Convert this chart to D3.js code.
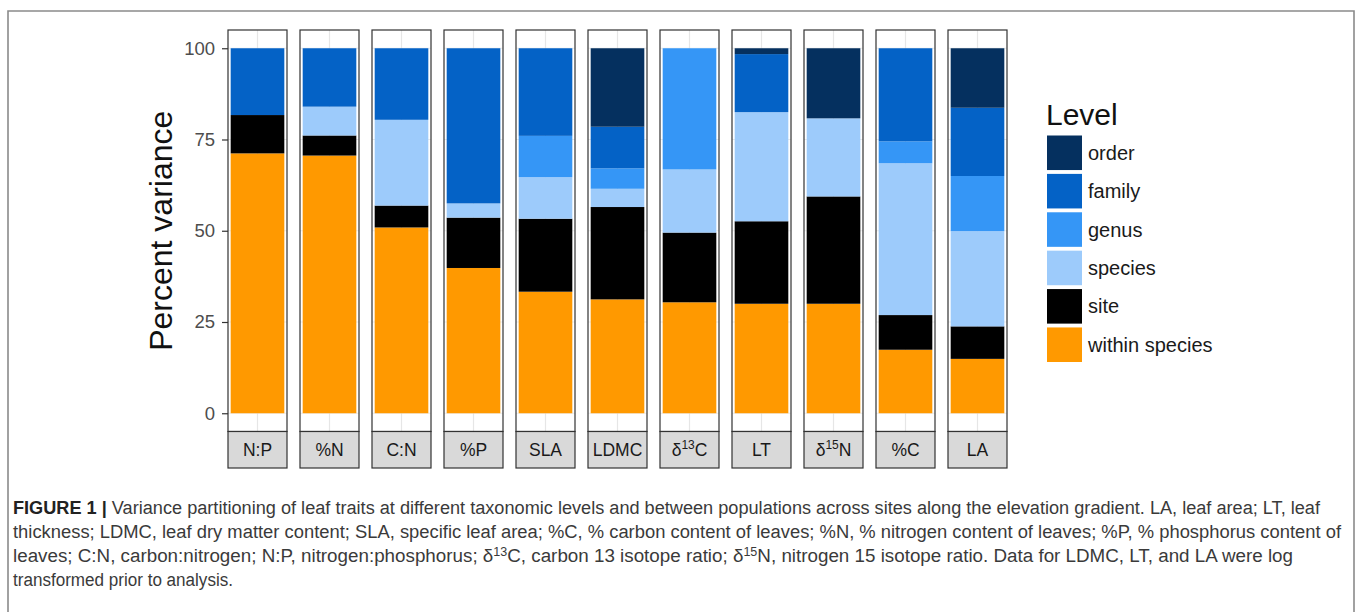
<!DOCTYPE html>
<html><head><meta charset="utf-8">
<script src="https://cdn.jsdelivr.net/npm/d3@7"></script>
<style>body{margin:0;background:#fff} svg{display:block}</style>
</head><body><svg id="c" width="1357" height="612"></svg>
<script>
// ---- data ----
const traits = ["N:P","%N","C:N","%P","SLA","LDMC","d13C","LT","d15N","%C","LA"];
const withinSpecies = [71.2,70.6,50.9,39.8,33.3,31.2,30.4,30.0,30.0,17.4,14.9];
const site          = [10.5, 5.5, 6.0,13.8,20.0,25.3,19.1,22.6,29.4, 9.5, 8.9];
const species       = [ 0.0, 7.9,23.5, 3.9,11.4, 5.0,17.3,29.9,21.4,41.6,26.1];
const genus         = [ 0.0, 0.0, 0.0, 0.0,11.3, 5.6,33.2, 0.0, 0.0, 6.0,15.1];
const family        = [18.3,16.0,19.6,42.5,24.0,11.4, 0.0,15.9, 0.0,25.5,18.7];
const order         = [ 0.0, 0.0, 0.0, 0.0, 0.0,21.5, 0.0, 1.6,19.2, 0.0,16.3];
const stackLevels = ["within species","site","species","genus","family","order"];
const legendLevels = ["order","family","genus","species","site","within species"];
const yTicks = [0,25,50,75,100];
const captionLines = [
  "Variance partitioning of leaf traits at different taxonomic levels and between populations across sites along the elevation gradient. LA, leaf area; LT, leaf",
  "thickness; LDMC, leaf dry matter content; SLA, specific leaf area; %C, % carbon content of leaves; %N, % nitrogen content of leaves; %P, % phosphorus content of",
  "leaves; C:N, carbon:nitrogen; N:P, nitrogen:phosphorus; |13|C, carbon 13 isotope ratio; |15|N, nitrogen 15 isotope ratio. Data for LDMC, LT, and LA were log",
  "transformed prior to analysis."
];

// ---- styles ----
const colors = {"order":"#05305f","family":"#0462c6","genus":"#3596f6","species":"#9dcbfb","site":"#000000","within species":"#ff9900"};
const font = "'Liberation Sans', Arial, Helvetica, sans-serif";

const rows = traits.map((t,i)=>({trait:t,"within species":withinSpecies[i],site:site[i],species:species[i],genus:genus[i],family:family[i],order:order[i]}));
const series = d3.stack().keys(stackLevels)(rows);

const svg = d3.select("#c");
svg.append("rect").attr("width",1357).attr("height",612).attr("fill","#fff");
// frame
svg.append("path").attr("d","M8,612V11H1354V612").attr("fill","none").attr("stroke","#8a8a8a").attr("stroke-width",1.6);

const panelTop = 30, panelBottom = 431.5;
const x = d3.scaleBand().domain(traits).range([228,1007]).paddingInner(13/72).paddingOuter(0);
const y = d3.scaleLinear().domain([-5,105]).range([panelBottom,panelTop]);
const bw = x.bandwidth();
const inner = d3.scaleBand().domain(["bar"]).range([0,bw]).paddingOuter(0.05);

const panels = svg.append("g").selectAll("g").data(traits).join("g").attr("transform",d=>`translate(${x(d)},0)`);
panels.append("rect").attr("x",0).attr("y",panelTop).attr("width",bw).attr("height",panelBottom-panelTop).attr("fill","#fff");
// grid
panels.selectAll("line.h").data(yTicks).join("line").attr("class","h")
  .attr("x1",0).attr("x2",bw).attr("y1",d=>y(d)).attr("y2",d=>y(d)).attr("stroke","#ebebeb").attr("stroke-width",1);
panels.append("line").attr("x1",bw/2).attr("x2",bw/2).attr("y1",panelTop).attr("y2",panelBottom).attr("stroke","#e6e6e6").attr("stroke-width",1.2);

// bars
const barG = svg.append("g");
series.forEach(s=>{
  barG.append("g").attr("fill",colors[s.key]).selectAll("rect").data(s).join("rect")
    .attr("x",d=>x(d.data.trait)+inner("bar"))
    .attr("width",inner.bandwidth())
    .attr("y",d=>y(d[1]))
    .attr("height",d=>Math.max(0,y(d[0])-y(d[1])));
});
// panel borders
panels.append("rect").attr("x",0).attr("y",panelTop).attr("width",bw).attr("height",panelBottom-panelTop)
  .attr("fill","none").attr("stroke","#333").attr("stroke-width",1.2);

// strips
const stripTop = panelBottom, stripBottom = 468;
panels.append("rect").attr("x",0).attr("y",stripTop).attr("width",bw).attr("height",stripBottom-stripTop)
  .attr("fill","#d9d9d9").attr("stroke","#333").attr("stroke-width",1.2);
panels.each(function(d){
  const t = d3.select(this).append("text").attr("x",bw/2).attr("y",(stripTop+stripBottom)/2+6.5)
    .attr("text-anchor","middle").attr("font-family",font).attr("font-size",17.5).attr("fill","#1a1a1a");
  const m = d.match(/^d(\d+)(\w)$/);
  if(m){
    t.append("tspan").text("δ");
    t.append("tspan").attr("font-size",12).attr("dy",-7).text(m[1]);
    t.append("tspan").attr("dy",7).text(m[2]);
  } else t.text(d);
});

// y axis
const yAxis = svg.append("g").attr("transform","translate(228,0)")
  .call(d3.axisLeft(y).tickValues(yTicks).tickSize(6).tickPadding(7));
yAxis.select(".domain").remove();
yAxis.selectAll(".tick line").attr("stroke","#333").attr("stroke-width",1.2);
yAxis.selectAll(".tick text").attr("font-family",font).attr("font-size",18.5).attr("fill","#4d4d4d");

svg.append("text").attr("transform",`translate(172,${(panelTop+panelBottom)/2}) rotate(-90)`)
  .attr("text-anchor","middle").attr("font-family",font).attr("font-size",32).attr("fill","#111").text("Percent variance");

// legend
const lg = svg.append("g");
lg.append("text").attr("x",1046).attr("y",125).attr("font-family",font).attr("font-size",30).attr("fill","#111").text("Level");
const keyY = d3.scaleBand().domain(legendLevels).range([135.5,362]).paddingInner(0.1);
legendLevels.forEach(l=>{
  lg.append("rect").attr("x",1047).attr("y",keyY(l)).attr("width",35).attr("height",keyY.bandwidth()).attr("fill",colors[l]);
  lg.append("text").attr("x",1088).attr("y",keyY(l)+keyY.bandwidth()/2+7).attr("font-family",font).attr("font-size",20).attr("fill","#1a1a1a").text(l);
});

// caption
const capEnds = [1320,1341,1293,233];
const capY = [514,538,562,586];
const capX = 13;
captionLines.forEach((line,i)=>{
  const t = svg.append("text").attr("x",capX).attr("y",capY[i]).attr("font-family",font)
    .attr("font-size",18).attr("fill","#3a3a3a").attr("textLength",capEnds[i]-capX).attr("lengthAdjust","spacingAndGlyphs");
  if(i===0){
    t.append("tspan").attr("font-weight","bold").attr("fill","#222").text("FIGURE 1 |");
    t.append("tspan").text(" ");
  }
  const parts = line.split("|");
  let shiftBack = false;
  parts.forEach((p,j)=>{
    if(j%2===1){
      t.append("tspan").text("δ");
      t.append("tspan").attr("font-size",12).attr("dy",-6).text(p);
      shiftBack = true;
    } else {
      const ts = t.append("tspan").text(p);
      if(shiftBack){ ts.attr("dy",6); shiftBack=false; }
    }
  });
});
</script></body></html>
